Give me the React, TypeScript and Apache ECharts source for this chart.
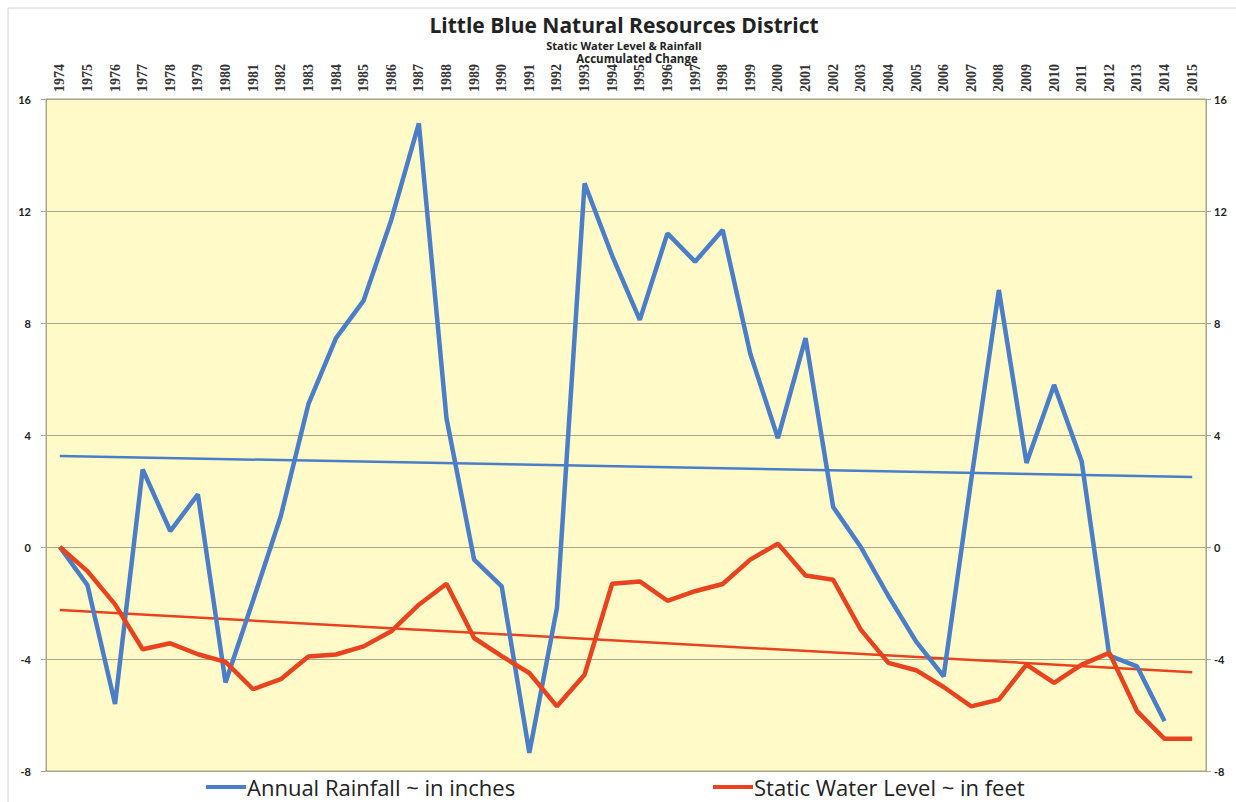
import React, { useEffect, useRef } from "react";
import * as echarts from "echarts";

const years = [
  "1974","1975","1976","1977","1978","1979","1980","1981","1982","1983",
  "1984","1985","1986","1987","1988","1989","1990","1991","1992","1993",
  "1994","1995","1996","1997","1998","1999","2000","2001","2002","2003",
  "2004","2005","2006","2007","2008","2009","2010","2011","2012","2013",
  "2014","2015",
];

const rainfall: (number | null)[] = [
  0, -1.36, -5.61, 2.77, 0.57, 1.88, -4.84, -1.9, 1.1, 5.1,
  7.46, 8.8, 11.68, 15.13, 4.6, -0.45, -1.41, -7.35, -2.18, 12.99,
  10.4, 8.11, 11.2, 10.19, 11.32, 6.9, 3.89, 7.46, 1.43, 0.0,
  -1.75, -3.37, -4.62, 2.4, 9.18, 3.0, 5.79, 3.05, -3.88, -4.26,
  -6.22, null,
];

const waterLevel = [
  0, -0.86, -2.05, -3.65, -3.44, -3.83, -4.1, -5.08, -4.72, -3.91,
  -3.84, -3.55, -3.01, -2.06, -1.31, -3.25, -3.9, -4.5, -5.69, -4.56,
  -1.31, -1.23, -1.92, -1.58, -1.32, -0.45, 0.12, -1.02, -1.17, -2.95,
  -4.14, -4.4, -5.0, -5.69, -5.45, -4.2, -4.85, -4.2, -3.78, -5.86,
  -6.85, -6.85,
];

const rainfallTrend = [3.25, 2.5];
const waterTrend = [-2.25, -4.47];

const yTicks = { min: -8, max: 16, interval: 4 };

const rainName = "Annual Rainfall ~ in inches";
const waterName = "Static Water Level ~ in feet";

const BLUE = "#4A7EC8";
const RED = "#E8431E";

export default function App() {
  const ref = useRef<HTMLDivElement>(null);
  useEffect(() => {
    document.body.style.margin = "0";
    const chart = echarts.init(ref.current!, undefined, { renderer: "svg" });
    const axisLabelStyle = {
      color: "#222",
      fontWeight: "bold" as const,
      fontSize: 11,
      fontFamily: "Lato",
    };
    const legendText = {
      fontSize: 22,
      lineHeight: 22,
      color: "#222",
      fontFamily: "Open Sans",
      padding: [0, 0, 0, -4],
    };
    chart.setOption({
      animation: false,
      backgroundColor: "#ffffff",
      graphic: [
        {
          type: "rect",
          shape: { x: 8, y: 8, width: 1240, height: 810 },
          style: { fill: "none", stroke: "#d0d0d0", lineWidth: 1 },
          silent: true,
        },
        {
          type: "text",
          x: 624,
          y: 25,
          style: {
            text: "Little Blue Natural Resources District",
            font: "bold 21px 'Open Sans'",
            fill: "#222",
            textAlign: "center",
            textVerticalAlign: "middle",
          },
        },
        {
          type: "text",
          x: 624,
          y: 45,
          style: {
            text: "Static Water Level & Rainfall",
            font: "bold 11px 'Open Sans'",
            fill: "#222",
            textAlign: "center",
            textVerticalAlign: "middle",
          },
        },
        {
          type: "text",
          x: 637,
          y: 58,
          style: {
            text: "Accumulated Change",
            font: "bold 11.5px 'Open Sans'",
            fill: "#222",
            textAlign: "center",
            textVerticalAlign: "middle",
          },
        },
      ],
      legend: [
        {
          data: [rainName],
          left: 206,
          top: 776,
          padding: 0,
          icon: "rect",
          itemWidth: 40,
          itemHeight: 4,
          textStyle: legendText,
        },
        {
          data: [waterName],
          left: 713,
          top: 776,
          padding: 0,
          icon: "rect",
          itemWidth: 40,
          itemHeight: 4,
          textStyle: legendText,
        },
      ],
      grid: {
        left: 46,
        right: 30,
        top: 99,
        bottom: 31,
        show: true,
        backgroundColor: "#FFFAC8",
        borderColor: "#a8a68a",
        borderWidth: 1,
      },
      xAxis: {
        type: "category",
        data: years,
        position: "top",
        boundaryGap: true,
        axisLine: { show: true, lineStyle: { color: "#a8a68a" } },
        axisTick: { show: false },
        axisLabel: {
          rotate: 90,
          interval: 0,
          margin: 7,
          color: "#333",
          fontWeight: "bold",
          fontSize: 14,
          fontFamily: "Liberation Serif",
        },
      },
      yAxis: [
        {
          type: "value",
          ...yTicks,
          position: "left",
          axisLine: { show: true, lineStyle: { color: "#a8a68a" } },
          axisTick: { show: true, length: 5, lineStyle: { color: "#a8a68a" } },
          axisLabel: { ...axisLabelStyle, margin: 15 },
          splitLine: { show: true, lineStyle: { color: "#a8a68a", width: 1 } },
        },
        {
          type: "value",
          ...yTicks,
          position: "right",
          axisLine: { show: true, lineStyle: { color: "#a8a68a" } },
          axisTick: { show: true, length: 5, lineStyle: { color: "#a8a68a" } },
          axisLabel: { ...axisLabelStyle, margin: 8 },
          splitLine: { show: false },
        },
      ],
      series: [
        {
          name: "Rainfall trend",
          type: "line",
          data: [
            [years[0], rainfallTrend[0]],
            [years[years.length - 1], rainfallTrend[1]],
          ],
          symbol: "none",
          lineStyle: { color: BLUE, width: 2.5 },
          itemStyle: { color: BLUE },
          silent: true,
        },
        {
          name: "Water trend",
          type: "line",
          data: [
            [years[0], waterTrend[0]],
            [years[years.length - 1], waterTrend[1]],
          ],
          symbol: "none",
          lineStyle: { color: RED, width: 2.5 },
          itemStyle: { color: RED },
          silent: true,
        },
        {
          name: rainName,
          type: "line",
          data: rainfall,
          symbol: "none",
          lineStyle: { color: BLUE, width: 4.5 },
          itemStyle: { color: BLUE },
        },
        {
          name: waterName,
          type: "line",
          data: waterLevel,
          symbol: "none",
          lineStyle: { color: RED, width: 4.5 },
          itemStyle: { color: RED },
        },
      ],
    });
    return () => chart.dispose();
  }, []);
  return <div ref={ref} style={{ width: 1236, height: 802 }} />;
}
